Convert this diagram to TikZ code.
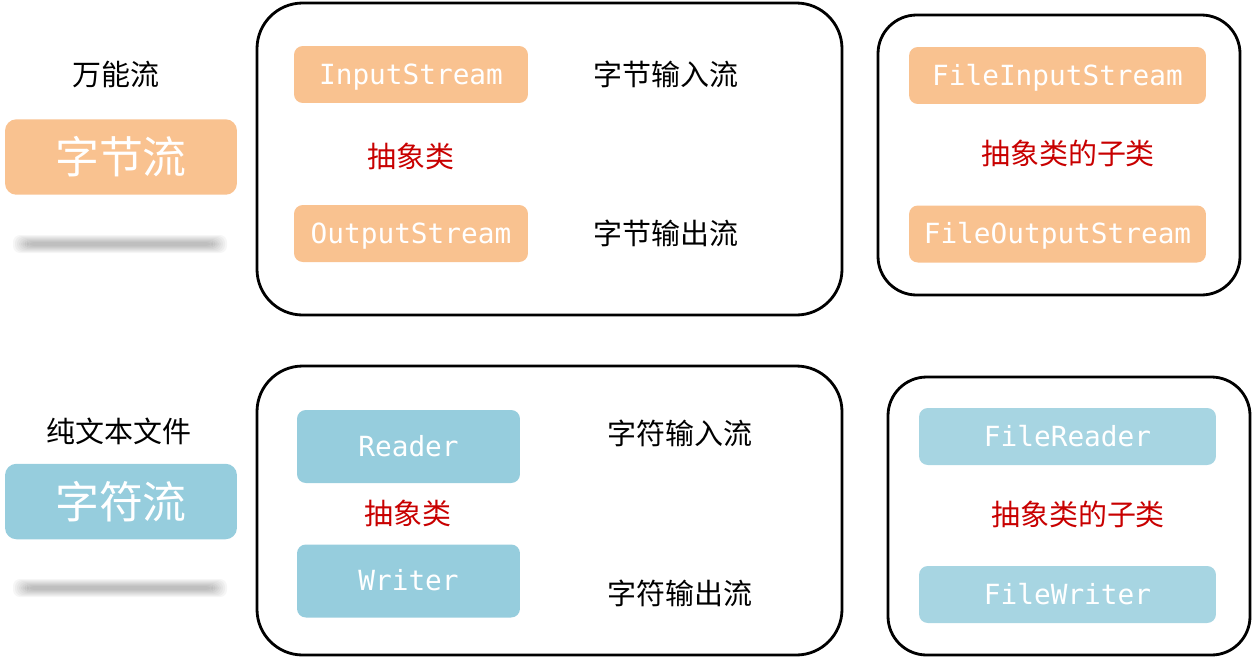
\documentclass[tikz,border=0pt]{standalone}
\usepackage{fontspec}
\setmainfont{Noto Sans CJK SC}
\setmonofont{DejaVu Sans Mono}
\usetikzlibrary{positioning}

\definecolor{byteorange}{HTML}{F9C290}
\definecolor{charblue}{HTML}{96CDDD}
\definecolor{fileblue}{HTML}{A7D5E2}
\definecolor{notered}{HTML}{C80000}

\begin{document}
\begin{tikzpicture}[x=0.02cm,y=-0.02cm]
    \tikzstyle{every node}=[font=\fontsize{16.5}{18}\selectfont, inner sep=0pt]
    \tikzstyle{kind}=[rounded corners=6.5pt, text=white, minimum width=4.64cm, minimum height=1.51cm, font=\fontsize{25}{28}\selectfont]
    \tikzstyle{cls}=[rounded corners=5pt, text=white, minimum height=1.14cm, text height=14.3pt, text depth=3pt, font=\ttfamily\fontsize{15.8}{18}\selectfont]
    \tikzstyle{note}=[text=notered]
    \tikzstyle{frame}=[line width=1.6pt, rounded corners=26pt]

    \useasboundingbox (0,0) rectangle (1253,660);

    % left column
    \node (allkind) at (116,74) {万能流};
    \node[kind, fill=byteorange] (bytes) at (121,157) {字节流};
    \node (plain) at (119,431) {纯文本文件};
    \node[kind, fill=charblue] (chars) at (121,501.5) {字符流};
    \foreach \y in {244,588}
        \foreach \i in {0,...,7}
            \fill[black, opacity=0.035, rounded corners=4pt] (13+2*\i,\y-9+\i) rectangle (227-2*\i,\y+9-\i);

    % frames
    \draw[frame] (257,3) rectangle (842,315);
    \draw[frame, rounded corners=22pt] (878,15) rectangle (1240,295);
    \draw[frame] (257,366) rectangle (842,655);
    \draw[frame, rounded corners=22pt] (888,377) rectangle (1250,655);

    % byte streams
    \node[cls, fill=byteorange, minimum width=4.68cm] (in) at (411,74.5) {InputStream};
    \node[cls, fill=byteorange, minimum width=4.68cm] (out) at (411,233.5) {OutputStream};
    \node[note] (absbyte) at (411,156) {抽象类};
    \node (inlabel) at (666,74) {字节输入流};
    \node (outlabel) at (666,233) {字节输出流};
    \node[cls, fill=byteorange, minimum width=5.94cm] (fin) at (1057.5,75.5) {FileInputStream};
    \node[cls, fill=byteorange, minimum width=5.94cm] (fout) at (1057.5,234) {FileOutputStream};
    \node[note] (subbyte) at (1068,153) {抽象类的子类};

    % char streams
    \node[cls, fill=charblue, minimum width=4.46cm, minimum height=1.46cm] (reader) at (408.5,446.5) {Reader};
    \node[cls, fill=charblue, minimum width=4.46cm, minimum height=1.46cm] (writer) at (408.5,581) {Writer};
    \node[note] (abschar) at (408,513) {抽象类};
    \node (readlabel) at (680,433) {字符输入流};
    \node (writelabel) at (680,593) {字符输出流};
    \node[cls, fill=fileblue, minimum width=5.94cm] (freader) at (1067.5,436.5) {FileReader};
    \node[cls, fill=fileblue, minimum width=5.94cm] (fwriter) at (1067.5,594.5) {FileWriter};
    \node[note] (subchar) at (1078,514) {抽象类的子类};
\end{tikzpicture}
\end{document}
